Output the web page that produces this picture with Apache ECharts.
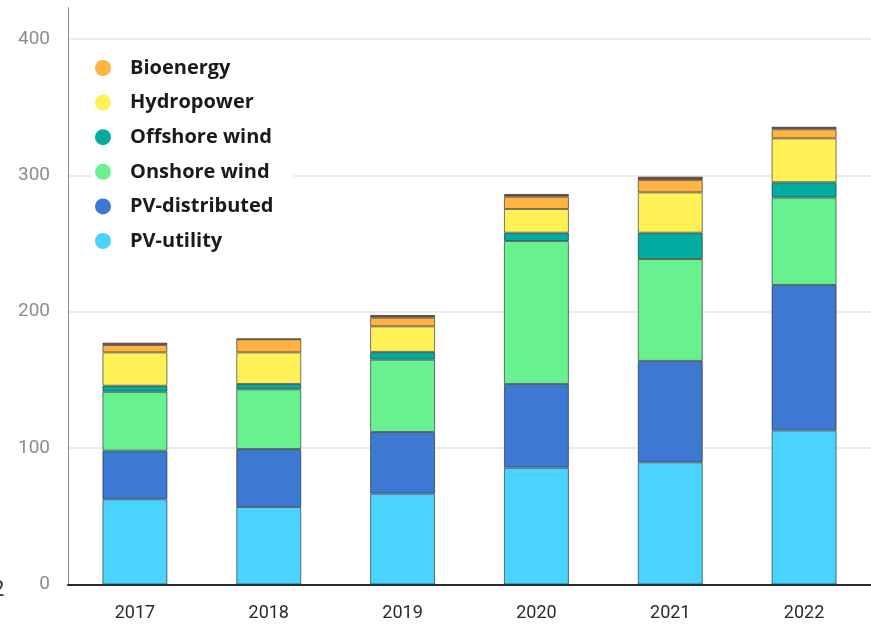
<!DOCTYPE html>
<html>
<head>
<meta charset="utf-8">
<script src="https://cdn.jsdelivr.net/npm/echarts@6/dist/echarts.min.js"></script>
<style>
  html, body { margin: 0; padding: 0; background: #fff; }
  #chart { width: 871px; height: 629px; }
</style>
</head>
<body>
<div id="chart"></div>
<script>
// capacity additions by year (GW), stacked bottom to top
const years = ['2017', '2018', '2019', '2020', '2021', '2022']
const pvUtility = [62.5, 56.8, 66.6, 85.6, 89.6, 113.0]
const pvDistributed = [35.6, 42.5, 45.2, 61.4, 74.3, 106.6]
const onshoreWind = [43.2, 43.8, 53.0, 104.8, 74.7, 64.0]
const offshoreWind = [4.4, 3.9, 5.7, 6.1, 19.3, 11.3]
const hydropower = [24.5, 23.2, 18.8, 17.4, 29.6, 32.2]
const bioenergy = [5.4, 9.6, 6.3, 9.0, 9.1, 6.6]
const other = [1.7, 0.4, 2.0, 2.0, 2.4, 1.9]
const yTicks = [0, 100, 200, 300, 400]

const chart = echarts.init(document.getElementById('chart'))

const seriesDefs = [
  { name: 'PV-utility', data: pvUtility, color: '#4AD3FF' },
  { name: 'PV-distributed', data: pvDistributed, color: '#3D78D2' },
  { name: 'Onshore wind', data: onshoreWind, color: '#68F28F' },
  { name: 'Offshore wind', data: offshoreWind, color: '#00AC9F' },
  { name: 'Hydropower', data: hydropower, color: '#FFF056' },
  { name: 'Bioenergy', data: bioenergy, color: '#FFB341' },
  { name: 'Other', data: other, color: '#7A4E3E' }
]

const option = {
  backgroundColor: '#fff',
  animation: false,
  grid: { left: 68, right: -5, top: 7.5, bottom: 44.5, containLabel: false },
  legend: {
    data: ['Bioenergy', 'Hydropower', 'Offshore wind', 'Onshore wind', 'PV-distributed', 'PV-utility'],
    orient: 'vertical',
    left: 92,
    top: 53,
    padding: [5, 20, 5, 3],
    backgroundColor: '#fff',
    icon: 'circle',
    itemWidth: 16,
    itemHeight: 16,
    itemGap: 14.6,
    itemStyle: { borderWidth: 0 },
    textStyle: {
      fontFamily: 'Open Sans',
      fontWeight: 'bold',
      fontSize: 20,
      color: '#1a1a1a',
      padding: [0, 0, 0, 14]
    }
  },
  xAxis: {
    type: 'category',
    data: years,
    axisLine: { lineStyle: { color: '#2a2a2a', width: 2 } },
    axisTick: { length: 17, lineStyle: { color: '#2a2a2a', width: 1.5 } },
    axisLabel: { fontFamily: 'Roboto', fontSize: 18, color: '#2a2a2a', margin: 20 },
    z: 5
  },
  yAxis: {
    type: 'value',
    min: 0,
    max: 423,
    interval: 100,
    axisLine: { show: true, lineStyle: { color: '#8a8a8a', width: 1 } },
    axisTick: { show: false },
    axisLabel: {
      fontFamily: 'Roboto',
      fontSize: 19,
      color: '#8c8c8c',
      margin: 18,
      showMaxLabel: false,
      formatter: v => (yTicks.includes(v) ? String(v) : '')
    },
    splitLine: { showMaxLine: false, lineStyle: { color: '#e4e4e4', width: 1.5 } }
  },
  graphic: [
    { type: 'text', left: -8, top: 579, style: { text: '2', fontFamily: 'Roboto', fontSize: 22, fill: '#333' } }
  ],
  series: seriesDefs.map(s => ({
    name: s.name,
    type: 'bar',
    stack: 'total',
    barWidth: 65,
    data: s.data,
    itemStyle: {
      color: s.color,
      borderColor: 'rgba(30, 30, 30, 0.6)',
      borderWidth: 1
    }
  }))
}

chart.setOption(option)
</script>
</body>
</html>
